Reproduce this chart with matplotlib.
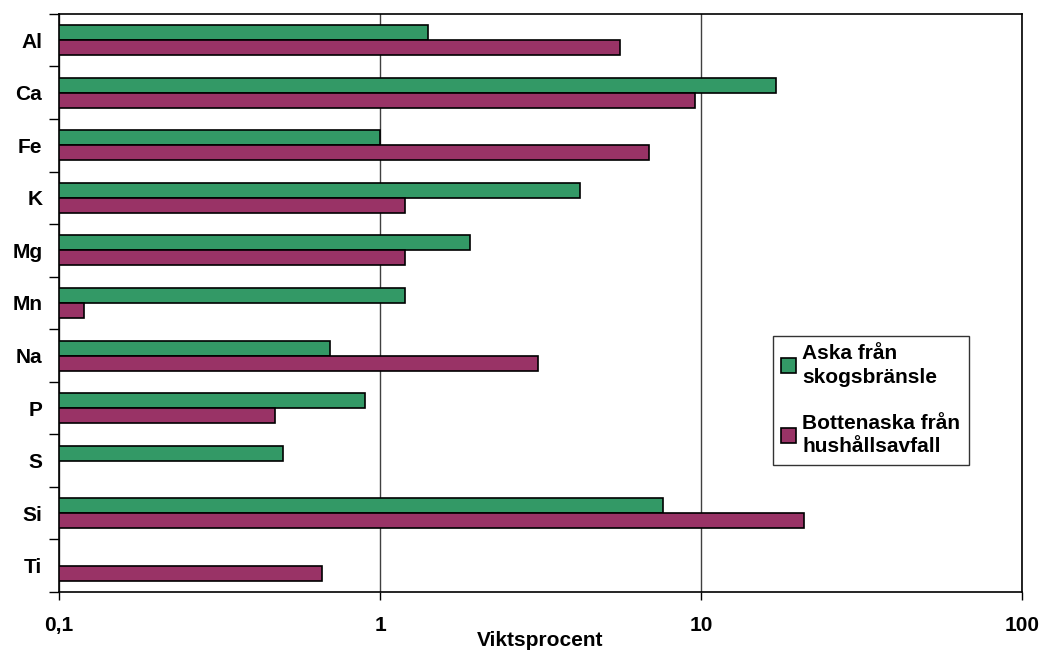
import matplotlib.pyplot as plt
import numpy as np

plt.rcParams['font.family'] = ['Liberation Sans', 'DejaVu Sans']
plt.rcParams['font.weight'] = 'bold'

# halter i viktsprocent, None = ej uppmätt
elements = ['Al', 'Ca', 'Fe', 'K', 'Mg', 'Mn', 'Na', 'P', 'S', 'Si', 'Ti']
skog = [1.41, 17.1, 1.0, 4.2, 1.9, 1.2, 0.7, 0.9, 0.5, 7.6, None]
hushall = [5.6, 9.6, 6.9, 1.2, 1.2, 0.12, 3.1, 0.47, None, 21.0, 0.66]

green = '#339966'
purple = '#993366'

fig = plt.figure(figsize=(10.44, 6.51), dpi=100)
ax = fig.add_axes([0.0565, 0.0906, 0.9225, 0.888])

y = np.arange(len(elements))
h = 1 / 3.5

def bars(vals, offset, color, label):
    yy = [yi + offset for yi, v in zip(y, vals) if v is not None]
    vv = [v for v in vals if v is not None]
    ax.barh(yy, [v - 0.1 for v in vv], left=0.1, height=h, color=color,
            edgecolor='black', linewidth=1.2, label=label, zorder=3)

bars(skog, -h / 2, green, 'Aska från\nskogsbränsle')
bars(hushall, h / 2, purple, 'Bottenaska från\nhushållsavfall')

ax.set_xscale('log')
ax.set_xlim(0.1, 100)
ax.set_ylim(len(elements) - 0.5, -0.5)
ax.set_xticks([0.1, 1, 10, 100])
ax.set_xticklabels(['0,1', '1', '10', '100'], fontsize=15, fontweight='bold')
ax.xaxis.set_minor_locator(plt.NullLocator())
ax.set_yticks(y)
ax.set_yticklabels(elements, fontsize=15, fontweight='bold')
ax.set_yticks(np.arange(len(elements) + 1) - 0.5, minor=True)
ax.tick_params(axis='y', which='major', length=0, pad=12)
ax.tick_params(axis='y', which='minor', length=7, width=1)
ax.tick_params(axis='x', which='major', length=6, width=1, pad=11)
ax.grid(axis='x', which='major', color='#404040', linewidth=1, zorder=0)
for s in ax.spines.values():
    s.set_linewidth(1.2)
    s.set_color('black')

ax.set_xlabel('Viktsprocent', fontsize=15, fontweight='bold', labelpad=-2.5)

leg = ax.legend(loc='upper left', bbox_to_anchor=(0.7414, 0.443), fontsize=15,
                frameon=True, fancybox=False, edgecolor='black',
                handlelength=0.7, handleheight=0.7, handletextpad=0.3,
                labelspacing=1.3, borderpad=0.4, borderaxespad=0)
leg.get_frame().set_linewidth(1.0)
for t in leg.get_texts():
    t.set_fontweight('bold')
    t.set_linespacing(1.3)

fig.savefig('out.png', dpi=100)
